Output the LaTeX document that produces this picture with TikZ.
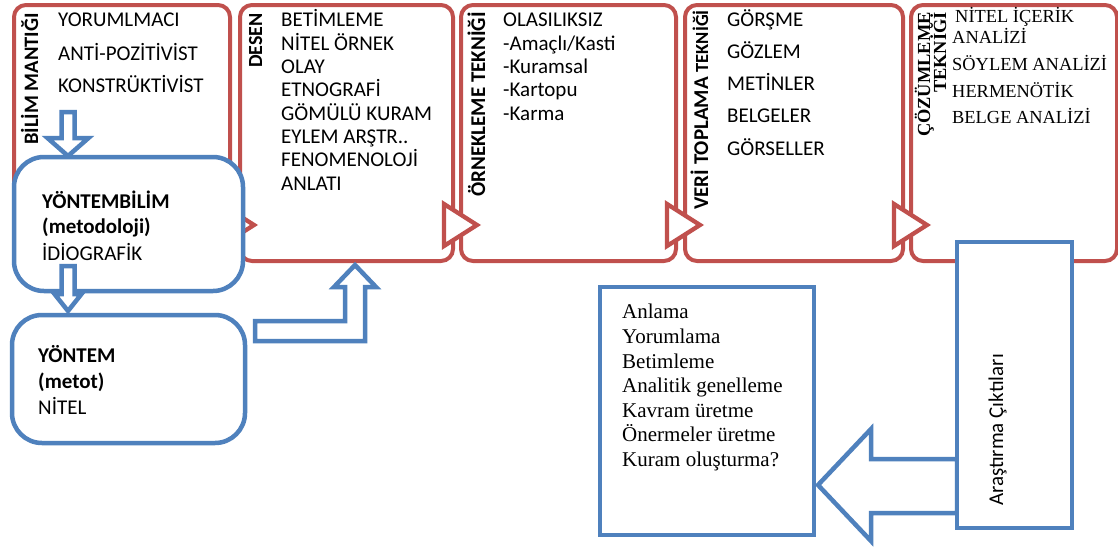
\documentclass[tikz,border=0pt]{standalone}
\usepackage{fontspec}
\setmainfont{Carlito}
\newfontfamily\tnr{Liberation Serif}
\usetikzlibrary{calc}
\definecolor{rd}{RGB}{192,80,77}
\definecolor{bl}{RGB}{79,129,189}
\begin{document}
\begin{tikzpicture}[x=1pt,y=-1pt,
  redbox/.style={draw=rd, line width=4pt, rounded corners=12pt, fill=white, inner sep=0pt, outer sep=0pt, anchor=north west, minimum height=256pt},
  tri/.style={draw=rd, line width=4.3pt, fill=white, line join=miter},
  bluebox/.style={draw=bl, line width=4.5pt, fill=white, inner sep=0pt, outer sep=0pt, anchor=north west},
  blockarrow/.style={draw=bl, line width=4.5pt, fill=white, line join=miter},
  item/.style={inner sep=0pt, anchor=base west, font=\fontsize{21}{25}\selectfont},
  bitem/.style={inner sep=0pt, anchor=base west, font=\bfseries\fontsize{21}{25}\selectfont},
  sitem/.style={inner sep=0pt, anchor=base west, font=\tnr\fontsize{18.4}{22}\selectfont},
  oitem/.style={inner sep=0pt, anchor=base west, font=\tnr\fontsize{21}{25}\selectfont},
  vlabel/.style={inner sep=0pt, rotate=90, anchor=base east, font=\bfseries\fontsize{20.5}{24}\selectfont},
  tlabel/.style={inner sep=0pt, rotate=90, anchor=base east, font=\tnr\bfseries\fontsize{18.4}{22}\selectfont},
]
\fill[white] (0,0) rectangle (1118,546);
\useasboundingbox (0,0) rectangle (1118,546);

% red process boxes
\node[redbox, minimum width=216pt] (b1) at (14,5) {};
\node[redbox, minimum width=213pt] (b2) at (240,5) {};
\node[redbox, minimum width=215pt] (b3) at (461,5) {};
\node[redbox, minimum width=218pt] (b4) at (685,5) {};
\node[redbox, minimum width=206pt] (b5) at (911,5) {};

% triangular tabs
\foreach \b in {b1,b2,b3,b4}{
  \draw[tri] ($(\b.south east)+(-9,-57)$) -- ($(\b.south east)+(24,-36)$) -- ($(\b.south east)+(-9,-15)$) -- cycle;
}

% box 1
\node[vlabel] (l1) at (38,13) {BİLİM MANTIĞI};
\node[item] (a1) at (58,27) {YORUMLMACI};
\node[item] (a2) at (58,60) {ANTİ-POZİTİVİST};
\node[item] (a3) at (58,92) {KONSTRÜKTİVİST};

% box 2
\node[vlabel, font=\bfseries\fontsize{20}{24}\selectfont] (l2) at (262,13) {DESEN};
\foreach \t [count=\i] in {BETİMLEME,NİTEL ÖRNEK,OLAY,ETNOGRAFİ,GÖMÜLÜ KURAM,{EYLEM ARŞTR..},FENOMENOLOJİ,ANLATI}
  \node[item] (d\i) at (281,{27+23.3*(\i-1)}) {\t};

% box 3
\node[vlabel, font=\bfseries\fontsize{21}{24}\selectfont] (l3) at (485,12) {ÖRNEKLEME TEKNİĞİ};
\foreach \t [count=\i] in {OLASILIKSIZ,-Amaçlı/Kasti,-Kuramsal,-Kartopu,-Karma}
  \node[item] (o\i) at (503,{27+23.3*(\i-1)}) {\t};

% box 4
\node[vlabel, font=\bfseries\fontsize{21}{24}\selectfont] (l4) at (708,10) {VERİ TOPLAMA {\fontsize{18.5}{20}\selectfont TEKNİĞİ}};
\foreach \t [count=\i] in {GÖRŞME,GÖZLEM,METİNLER,BELGELER,GÖRSELLER}
  \node[item] (v\i) at (727,{26+32.3*(\i-1)}) {\t};

% box 5
\node[tlabel] (l5a) at (930,12) {ÇÖZÜMLEME};
\node[tlabel] (l5b) at (946,12) {TEKNİĞİ};
\node[sitem] (c1) at (955,23) {NİTEL İÇERİK};
\node[sitem] (c2) at (952,43) {ANALİZİ};
\node[sitem] (c3) at (952,70) {SÖYLEM ANALİZİ};
\node[sitem] (c4) at (952,97) {HERMENÖTİK};
\node[sitem] (c5) at (952,123) {BELGE ANALİZİ};

% methodology box
\node[bluebox, rounded corners=30pt, minimum width=229pt, minimum height=134pt] (ybl) at (14,157) {};
\node[bitem] (y1) at (42,208) {YÖNTEMBİLİM};
\node[bitem] (y2) at (42,233) {(metodoloji)};
\node[item] (y3) at (42,260) {İDİOGRAFİK};

% arrow box1 -> methodology
\coordinate (t1) at ($(ybl.north west)+(54,-1)$);
\draw[blockarrow] (t1) -- ++(-20.5,-18) -- ++(14,0) -- ++(0,-26) -- ++(13,0) -- ++(0,26) -- ++(14,0) -- cycle;

% method box
\node[bluebox, rounded corners=30pt, minimum width=233pt, minimum height=128pt] (ym) at (12,315) {};
\node[bitem] (m1) at (38,362) {YÖNTEM};
\node[bitem] (m2) at (38,388) {(metot)};
\node[item] (m3) at (38,414) {NİTEL};

% arrow methodology -> method
\coordinate (t2) at ($(ym.north west)+(56,-4)$);
\draw[blockarrow] (t2) -- ++(-13.5,-17) -- ++(7,0) -- ++(0,-28) -- ++(13,0) -- ++(0,28) -- ++(7,0) -- cycle;

% bent arrow method -> desen
\coordinate (t3) at ($(b2.south west)+(115,4)$);
\draw[blockarrow] (t3) -- ++(21,22) -- ++(-11,0) -- ++(0,54) -- ($(ym.north east)+(10,26)$) -- ($(ym.north east)+(10,6)$) -- ($(t3)+(-10,56)$) -- ++(0,-34) -- ++(-11,0) -- cycle;

% outputs
\node[bluebox, minimum width=214pt, minimum height=248pt] (out) at (600,287) {};
\node[oitem] (r1) at (622,318) {Anlama};
\node[oitem] (r2) at (622,343) {Yorumlama};
\node[oitem] (r3) at (622,368) {Betimleme};
\node[oitem] (r4) at (622,392) {Analitik genelleme};
\node[oitem] (r5) at (622,417) {Kavram üretme};
\node[oitem] (r6) at (622,441) {Önermeler üretme};
\node[oitem] (r7) at (622,466) {Kuram oluşturma?};

\coordinate (t4) at ($(out.north east)+(4,198)$);
\draw[blockarrow] (t4) -- ++(53,-56) -- ++(0,30) -- ++(86,0) -- ++(0,54) -- ++(-86,0) -- ++(0,28) -- cycle;

\node[bluebox, minimum width=115pt, minimum height=286pt] (ara) at (957,242) {};
\node[inner sep=0pt, rotate=90, anchor=base, font=\fontsize{21}{25}\selectfont] (at) at (1003,430) {Araştırma Çıktıları};
\end{tikzpicture}
\end{document}
